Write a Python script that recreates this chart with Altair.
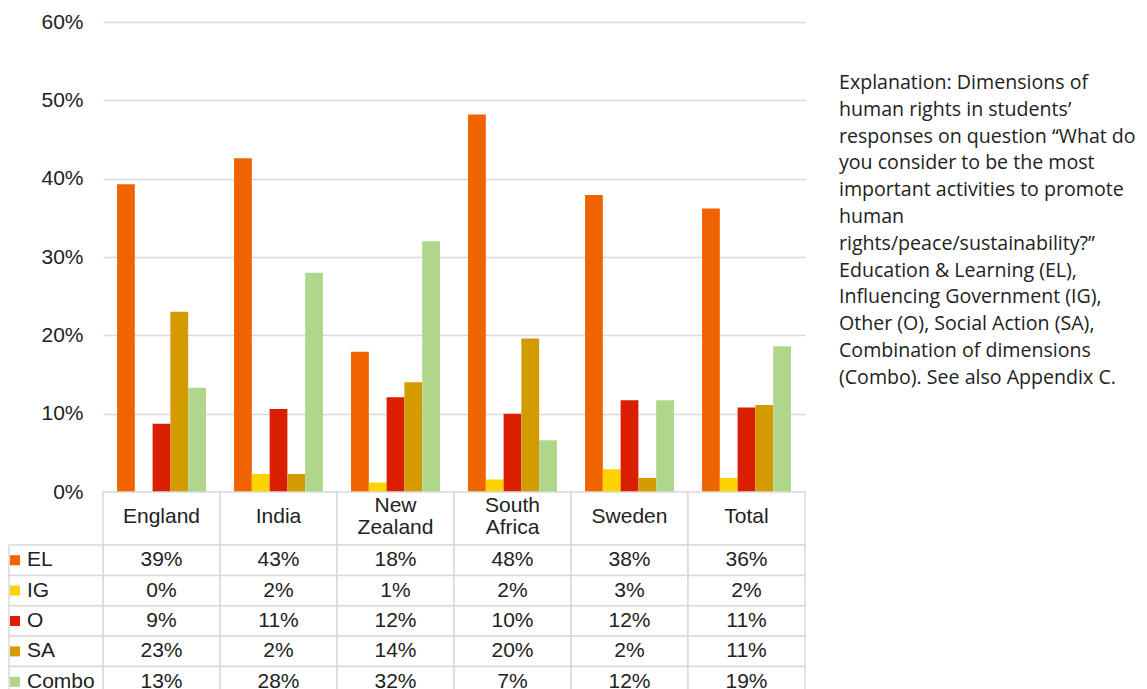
import altair as alt
import pandas as pd

countries = ["England", "India", "New Zealand", "South Africa", "Sweden", "Total"]
series = ["EL", "IG", "O", "SA", "Combo"]
colors = ["#F06400", "#FFD200", "#DA1F00", "#D39B00", "#AFD78C"]

el = [0.393, 0.426, 0.179, 0.482, 0.379, 0.362]
ig = [0.0, 0.023, 0.012, 0.016, 0.029, 0.018]
o = [0.087, 0.106, 0.121, 0.100, 0.117, 0.108]
sa = [0.230, 0.023, 0.140, 0.196, 0.018, 0.111]
combo = [0.133, 0.280, 0.320, 0.066, 0.117, 0.186]

y_ticks = [0.0, 0.1, 0.2, 0.3, 0.4, 0.5, 0.6]

explanation = [
    "Explanation: Dimensions of",
    "human rights in students\u2019",
    "responses on question \u201cWhat do",
    "you consider to be the most",
    "important activities to promote",
    "human",
    "rights/peace/sustainability?\u201d",
    "Education & Learning (EL),",
    "Influencing Government (IG),",
    "Other (O), Social Action (SA),",
    "Combination of dimensions",
    "(Combo). See also Appendix C.",
]

rows = []
for s, vals in zip(series, [el, ig, o, sa, combo]):
    for c, v in zip(countries, vals):
        rows.append({"country": c, "series": s, "value": v})
df = pd.DataFrame(rows)

FONT = "Liberation Sans"
GRID = "#d9d9d9"
TXT = "#222222"
FS = 21

color_scale = alt.Scale(domain=series, range=colors)

# ---- bars ----
bars = alt.Chart(df).mark_bar().encode(
    x=alt.X("country:N", sort=countries,
            scale=alt.Scale(paddingInner=0.24, paddingOuter=0.12), axis=None),
    xOffset=alt.XOffset("series:N", sort=series,
                        scale=alt.Scale(paddingInner=0, paddingOuter=0)),
    y=alt.Y("value:Q", scale=alt.Scale(domain=[0, 0.6], nice=False),
            axis=alt.Axis(format=".0%", values=y_ticks, title=None, domain=False,
                          ticks=False, labelFontSize=FS, labelFont=FONT,
                          labelColor=TXT, labelPadding=20, gridColor=GRID,
                          gridWidth=1.5)),
    color=alt.Color("series:N", scale=color_scale, legend=None),
)

expl = alt.Chart(pd.DataFrame({"t": ["\n".join(explanation)]})).mark_text(
    align="left", baseline="middle", font="Open Sans", fontSize=19.6,
    lineHeight=26.8, lineBreak="\n", color=TXT,
).encode(x=alt.value(736), y=alt.value(61), text="t:N")

top = alt.layer(bars, expl).properties(width=702, height=470)

# ---- header row ----
hdf = pd.DataFrame({"country": countries})
hx = alt.X("country:N", sort=countries,
           scale=alt.Scale(paddingInner=0, paddingOuter=0), axis=None)
header_cells = alt.Chart(hdf).mark_rect(fill="white", stroke=GRID, strokeWidth=1.5).encode(
    x=hx, y=alt.value(0), y2=alt.value(53))
header_one = alt.Chart(hdf).transform_filter(
    "indexof(datum.country, ' ') < 0"
).mark_text(font=FONT, fontSize=FS, color=TXT, baseline="middle").encode(
    x=hx, y=alt.value(25), text="country:N")
header_two = alt.Chart(hdf).transform_filter(
    "indexof(datum.country, ' ') >= 0"
).mark_text(font=FONT, fontSize=FS, lineBreak=" ", lineHeight=22, color=TXT,
            baseline="middle").encode(
    x=hx, y=alt.value(14), text="country:N")
header = alt.layer(header_cells, header_one, header_two).properties(width=702, height=53)

# ---- table ----
ty = alt.Y("series:N", sort=series,
           scale=alt.Scale(paddingInner=0, paddingOuter=0), axis=None)
sdf = pd.DataFrame({"series": series})
cells = alt.Chart(df).mark_rect(fill="white", stroke=GRID, strokeWidth=1.5).encode(x=hx, y=ty)
vals = alt.Chart(df).mark_text(font=FONT, fontSize=FS, color=TXT, baseline="middle").encode(
    x=hx, y=ty, text=alt.Text("value:Q", format=".0%"))
left_cells = alt.Chart(sdf).mark_rect(fill="white", stroke=GRID, strokeWidth=1.5).encode(
    x=alt.value(-94), x2=alt.value(0), y=ty)
squares = alt.Chart(sdf).mark_square(size=100, opacity=1).encode(
    x=alt.value(-88), y=ty, color=alt.Color("series:N", scale=color_scale, legend=None))
labels = alt.Chart(sdf).mark_text(align="left", baseline="middle", font=FONT,
                                  fontSize=FS, color=TXT).encode(
    x=alt.value(-76), y=ty, text="series:N")
table = alt.layer(cells, vals, left_cells, squares, labels).properties(width=702, height=152)

chart = alt.vconcat(top, header, table, spacing=0, bounds="flush").properties(
    padding={"left": 0, "top": 3, "right": 0, "bottom": 0}
).configure_view(strokeWidth=0)

chart.save("out.html", embed_options={"renderer": "svg", "actions": False})
